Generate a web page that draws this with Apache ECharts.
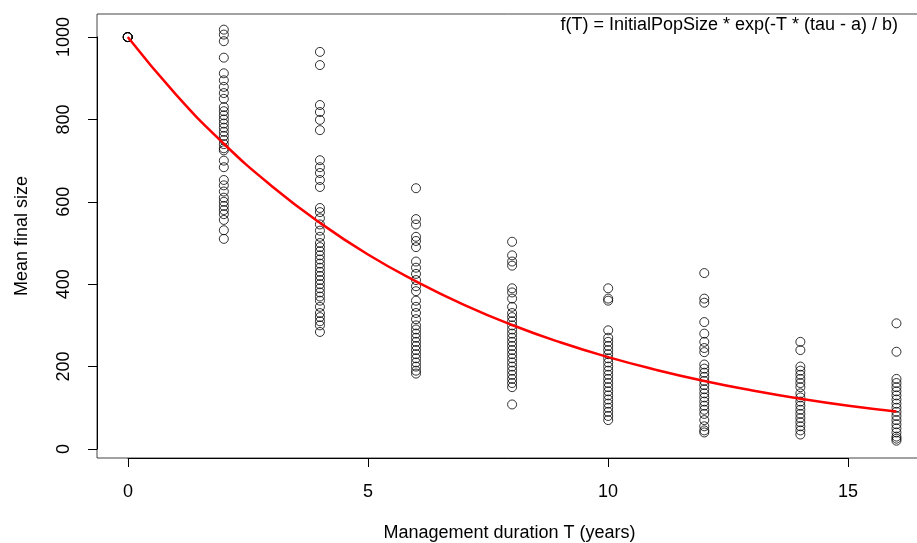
<!DOCTYPE html>
<html>
<head>
<meta charset="utf-8">
<script src="https://cdn.jsdelivr.net/npm/echarts@6/dist/echarts.min.js"></script>
<style>html,body{margin:0;padding:0;background:#fff}#c{width:917px;height:543px}</style>
</head>
<body>
<div id="c"></div>
<script>
// Management durations (x categories)
const durations = [0, 2, 4, 6, 8, 10, 12, 14, 16];
// Observed mean final sizes per duration
const size0 = [1000, 1000, 1000, 1000, 1000];
const size2 = [1018, 1006, 990, 950, 912, 895, 879, 864, 850, 830, 820, 810, 800, 790, 780, 770, 760, 750, 740, 730, 725, 700, 684, 653, 640, 625, 610, 600, 590, 580, 570, 556, 531, 510];
const size4 = [964, 932, 835, 818, 799, 774, 701, 684, 670, 653, 636, 585, 575, 560, 545, 530, 515, 500, 490, 480, 470, 460, 450, 440, 430, 420, 410, 400, 390, 380, 370, 360, 345, 330, 320, 310, 300, 284];
const size6 = [633, 558, 545, 515, 505, 490, 455, 440, 425, 410, 395, 383, 360, 345, 330, 315, 300, 290, 280, 270, 260, 250, 240, 230, 220, 210, 200, 190, 183];
const size8 = [503, 470, 455, 445, 390, 380, 365, 345, 330, 320, 310, 300, 290, 280, 270, 260, 250, 240, 230, 220, 210, 200, 190, 180, 170, 160, 150, 108];
const size10 = [390, 365, 360, 288, 270, 260, 250, 240, 230, 220, 210, 200, 190, 180, 170, 160, 150, 140, 130, 120, 110, 100, 90, 80, 70];
const size12 = [427, 365, 355, 308, 280, 260, 245, 235, 205, 195, 185, 175, 165, 155, 145, 135, 125, 115, 105, 95, 85, 70, 55, 45, 40];
const size14 = [260, 240, 200, 190, 180, 170, 160, 150, 135, 125, 115, 105, 95, 85, 75, 65, 55, 45, 35];
const size16 = [305, 236, 170, 160, 150, 140, 130, 120, 110, 100, 90, 80, 70, 60, 50, 40, 30, 25, 20];
const sizesByDuration = [size0, size2, size4, size6, size8, size10, size12, size14, size16];
// Fitted curve
const curveT = [0, 1, 2, 3, 4, 5, 6, 7, 8, 9, 10, 11, 12, 13, 14, 15, 16];
const curveY = [1000, 861, 741, 638, 549, 472, 407, 350, 301, 259, 223, 192, 165, 142, 122, 105, 91];
// Tick labels
const xTicks = [0, 5, 10, 15];
const yTicks = [0, 200, 400, 600, 800, 1000];

const points = [];
durations.forEach((t, i) => sizesByDuration[i].forEach(v => points.push([t, v])));
const curve = curveT.map((t, i) => [t, curveY[i]]);

const FONT = 'Liberation Sans';
const chart = echarts.init(document.getElementById('c'));
chart.setOption({
  animation: false,
  backgroundColor: '#fff',
  textStyle: { fontFamily: FONT },
  title: {
    text: 'f(T) = InitialPopSize * exp(-T * (tau - a) / b)',
    right: 19, top: 16, padding: 0,
    textStyle: { fontFamily: FONT, fontSize: 18, fontWeight: 'normal', color: '#000' }
  },
  grid: [
    { left: 97, top: 14, right: -3, height: 444, show: true, borderColor: '#444', borderWidth: 1,
      backgroundColor: 'transparent', containLabel: false, outerBoundsMode: 'none' },
    { left: 128, top: 37, width: 720, height: 412, show: false, containLabel: false, outerBoundsMode: 'none' }
  ],
  xAxis: [
    { gridIndex: 0, type: 'value', min: -0.64, max: 16.49, splitLine: { show: false },
      axisLine: { show: false }, axisTick: { show: false }, axisLabel: { show: false },
      name: 'Management duration T (years)', nameLocation: 'middle', nameGap: 66,
      nameTextStyle: { fontFamily: FONT, fontSize: 18, color: '#000', padding: [0, 0, 0, 2] } },
    { gridIndex: 1, type: 'value', min: 0, max: 15, interval: 5, offset: 9,
      splitLine: { show: false },
      axisLine: { show: true, onZero: false, lineStyle: { color: '#000', width: 1 } },
      axisTick: { show: true, inside: false, length: 9, lineStyle: { color: '#000' } },
      axisLabel: { margin: 25, fontFamily: FONT, fontSize: 18, color: '#000',
        customValues: xTicks, formatter: v => String(v) } }
  ],
  yAxis: [
    { gridIndex: 0, type: 'value', min: -22, max: 1056, splitLine: { show: false },
      axisLine: { show: false }, axisTick: { show: false }, axisLabel: { show: false },
      name: 'Mean final size', nameLocation: 'middle', nameGap: 66, nameRotate: 90,
      nameTextStyle: { fontFamily: FONT, fontSize: 18, color: '#000' } },
    { gridIndex: 1, type: 'value', min: 0, max: 1000, interval: 200, offset: 31,
      splitLine: { show: false },
      axisLine: { show: true, onZero: false, lineStyle: { color: '#000', width: 1 } },
      axisTick: { show: true, inside: false, length: 9, lineStyle: { color: '#000' } },
      axisLabel: { margin: 24, rotate: 90, fontFamily: FONT, fontSize: 18, color: '#000',
        customValues: yTicks, formatter: v => String(v) } }
  ],
  series: [
    { type: 'scatter', xAxisIndex: 0, yAxisIndex: 0, data: points, symbol: 'circle', symbolSize: 9,
      itemStyle: { color: 'rgba(0,0,0,0)', borderColor: '#000', borderWidth: 1 }, z: 2 },
    { type: 'line', xAxisIndex: 0, yAxisIndex: 0, data: curve, smooth: true, showSymbol: false,
      lineStyle: { color: '#ff0000', width: 2.5 }, z: 3 }
  ]
});
</script>
</body>
</html>
